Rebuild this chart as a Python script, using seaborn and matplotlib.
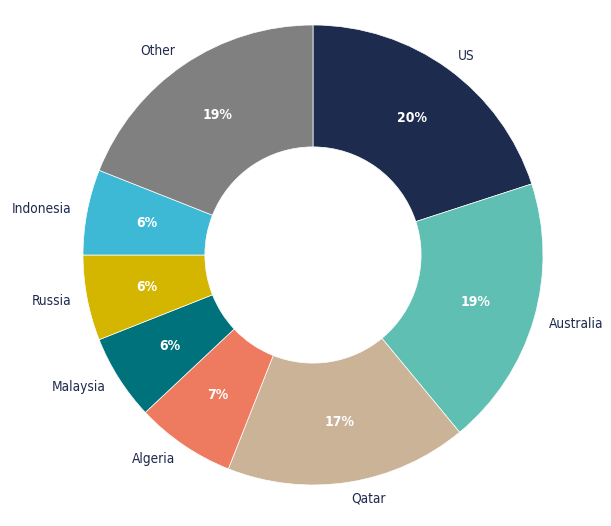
import matplotlib
matplotlib.use("Agg")
import matplotlib.pyplot as plt
import seaborn as sns

# data (clockwise from 12 o'clock)
countries = ['US', 'Australia', 'Qatar', 'Algeria', 'Malaysia', 'Russia', 'Indonesia', 'Other']
shares = [20, 19, 17, 7, 6, 6, 6, 19]
slice_colors = ['#1d2b4f', '#5fbfb2', '#cbb397', '#ee7b5f',
                '#00727b', '#d4b500', '#3db8d5', '#808080']

sns.set_theme(style='white')
plt.rcParams['font.family'] = ['DejaVu Sans']
plt.rcParams['font.stretch'] = 'condensed'
pal = sns.color_palette(slice_colors)

fig = plt.figure(figsize=(6.11, 5.26), dpi=100)
ax = fig.add_axes([60 / 611, 18 / 526, 506 / 611, 506 / 526])

wedges, texts, pcts = ax.pie(
    shares, labels=countries, colors=pal, startangle=90, counterclock=False,
    radius=1.0, labeldistance=1.07, pctdistance=0.735, autopct='%.0f%%',
    wedgeprops=dict(width=0.53, edgecolor='white', linewidth=0.5),
    textprops=dict(color='#1f2a4f', fontsize=9.8, fontstretch='condensed'))

for t in pcts:
    t.set_color('white')
    t.set_fontweight('bold')
    t.set_fontsize(10)

ax.set_xlim(-1.1, 1.1)
ax.set_ylim(-1.1, 1.1)
ax.set_aspect('equal')
ax.axis('off')

fig.savefig('out.png', dpi=100)
